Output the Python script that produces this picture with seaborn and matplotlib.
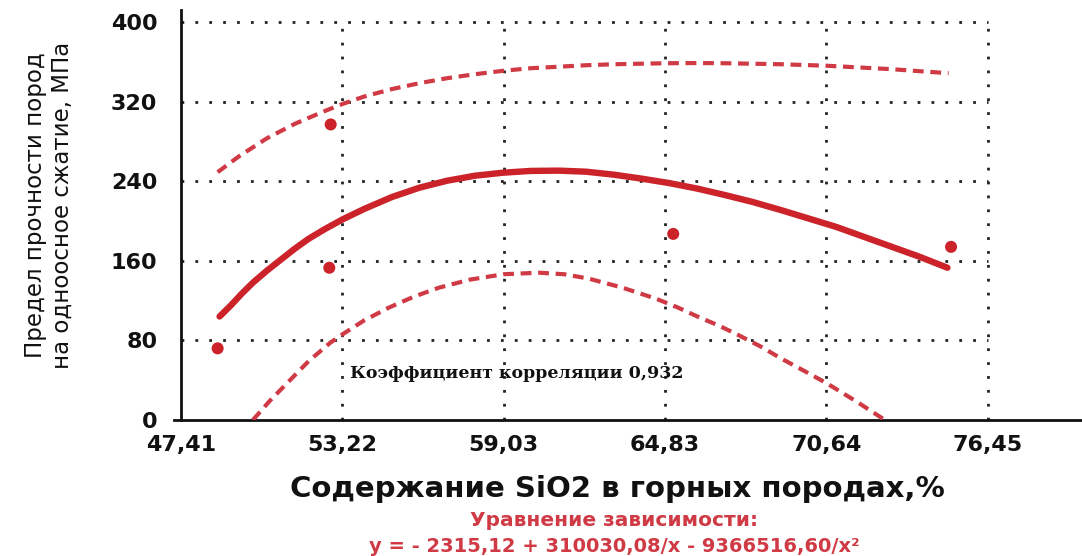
import matplotlib
matplotlib.use("Agg")
import matplotlib.pyplot as plt
import seaborn as sns
import pandas as pd

# ---- data ----
x_ticks = [47.41, 53.22, 59.03, 64.83, 70.64, 76.45]
x_tick_labels = ["47,41", "53,22", "59,03", "64,83", "70,64", "76,45"]
y_ticks = [0, 80, 160, 240, 320, 400]

obs_x = [48.73, 52.75, 52.80, 65.13, 75.13]
obs_y = [72, 153, 297, 187, 174]

fit_x = [48.8, 49.2, 49.6, 50.0, 50.5, 51.0, 51.5, 52.0, 52.6, 53.22, 54.0, 55.0, 56.0, 57.0, 58.0,
         59.0, 60.0, 61.0, 62.0, 63.0, 64.0, 65.0, 66.0, 67.0, 68.0, 69.0, 70.0, 71.0,
         72.0, 73.0, 74.0, 75.0]
fit_y = [104, 115, 127, 138, 150, 161, 172, 182, 192, 201.5, 212, 224, 233.5, 240.5, 245.5,
         248.5, 250.3, 250.6, 249.5, 246.5, 242.5, 238, 232.5, 226, 219, 211, 202.5, 194,
         184, 174, 164, 153]

upper_x = [48.73, 49.5, 50.5, 51.5, 52.5, 53.22, 54.0, 55.0, 56.0, 57.0, 58.0, 59.03, 60.0, 61.0,
           62.0, 63.0, 64.83, 66.0, 67.0, 68.0, 69.0, 70.64, 72.0, 73.0, 74.0, 75.04]
upper_y = [249, 265, 283, 297.5, 309.5, 317.5, 325, 332.5, 338.5, 343.5, 347.5, 351, 353.5, 355,
           356.5, 357.5, 358.5, 358.7, 358.5, 358, 357.5, 356, 354, 352.5, 350.5, 348.5]

lower_x = [50.0, 50.6, 51.3, 52.0, 52.8, 53.22, 54.0, 54.9, 55.8, 56.7, 57.8, 59.03, 60.3, 61.2,
           62.1, 63.3, 64.5, 65.3, 66.0, 66.8, 67.5, 68.3, 69.0, 69.8, 70.65, 71.7, 72.75]
lower_y = [0, 19, 39, 59, 78, 86, 100, 113, 124, 133, 141, 146.5, 148, 146.5,
           142, 133, 122, 113, 104, 94.5, 85, 73.5, 62, 50, 37, 19, 0]

corr_text = "Коэффициент корреляции 0,932"
x_label = "Содержание SiO2 в горных породах,%"
y_label = "Предел прочности пород\nна одноосное сжатие, МПа"
eq_title = "Уравнение зависимости:"
eq_text = "y = - 2315,12 + 310030,08/x - 9366516,60/x²"

# ---- styling ----
sns.set_theme(style="white")
plt.rcParams["font.family"] = ["DejaVu Sans"]

RED = "#cc2229"
RED_D = "#cf3a45"

fig = plt.figure(figsize=(10.82, 5.56), dpi=100)
ax = fig.add_axes([174 / 1082, (556 - 420) / 556, (1082 - 174) / 1082, 410 / 556])

x0 = 47.41 - 0.25
x1 = 47.41 + (1082 - 181) / 27.78
ax.set_xlim(x0, x1)
ax.set_ylim(0, 412)

# dotted grid restricted to tick range
grid_kw = dict(color="#222222", linewidth=2.0, linestyle=(0, (1, 4.0)), zorder=1)
ax.vlines(x_ticks[1:], 0, 400, **grid_kw)
ax.hlines(y_ticks[1:], x_ticks[0], x_ticks[-1], **grid_kw)

df_fit = pd.DataFrame({"x": fit_x, "y": fit_y})
df_up = pd.DataFrame({"x": upper_x, "y": upper_y})
df_lo = pd.DataFrame({"x": lower_x, "y": lower_y})
df_obs = pd.DataFrame({"x": obs_x, "y": obs_y})

sns.lineplot(data=df_up, x="x", y="y", ax=ax, color=RED_D, linewidth=3.0,
             sort=True, zorder=3).lines[-1].set_dashes((2.6, 1.6))
sns.lineplot(data=df_lo, x="x", y="y", ax=ax, color=RED_D, linewidth=3.0,
             sort=True, zorder=3).lines[-1].set_dashes((2.6, 1.6))
sns.lineplot(data=df_fit, x="x", y="y", ax=ax, color=RED, linewidth=4.6,
             sort=True, zorder=4)
sns.scatterplot(data=df_obs, x="x", y="y", ax=ax, color=RED, s=75,
                edgecolor="none", zorder=5)

# spines
for s in ["top", "right"]:
    ax.spines[s].set_visible(False)
ax.spines["left"].set_position(("data", 47.41))
for s in ["left", "bottom"]:
    ax.spines[s].set_color("#111111")
    ax.spines[s].set_linewidth(2.0)

ax.set_xticks(x_ticks)
ax.set_xticklabels(x_tick_labels)
ax.set_yticks(y_ticks)
ax.set_yticklabels([str(v) for v in y_ticks])
ax.tick_params(axis="x", length=5, width=1.5, color="#111111", pad=6,
               labelsize=16, labelcolor="#111111")
ax.tick_params(axis="y", length=5, width=1.5, color="#111111", pad=12,
               labelsize=16, labelcolor="#111111")
for lab in ax.get_xticklabels() + ax.get_yticklabels():
    lab.set_fontweight("bold")
ax.set_xlabel("")
ax.set_ylabel("")

ax.text(53.49, 47, corr_text, fontsize=12.5, fontweight="bold",
        family=["DejaVu Serif"], color="#111111",
        ha="left", va="center", zorder=6)

fig.text(49 / 1082, 1 - 205 / 556, y_label, rotation=90, ha="center", va="center",
         fontsize=16.5, color="#111111", linespacing=1.25)
fig.text(617 / 1082, 1 - 489 / 556, x_label, ha="center", va="center",
         fontsize=21, fontweight="bold", color="#111111")
fig.text(614 / 1082, 1 - 521 / 556, eq_title, ha="center", va="center",
         fontsize=14.5, fontweight="bold", color=RED_D)
fig.text(614 / 1082, 1 - 546 / 556, eq_text, ha="center", va="center",
         fontsize=14, fontweight="bold", color=RED_D)

fig.savefig("out.png", dpi=100)
